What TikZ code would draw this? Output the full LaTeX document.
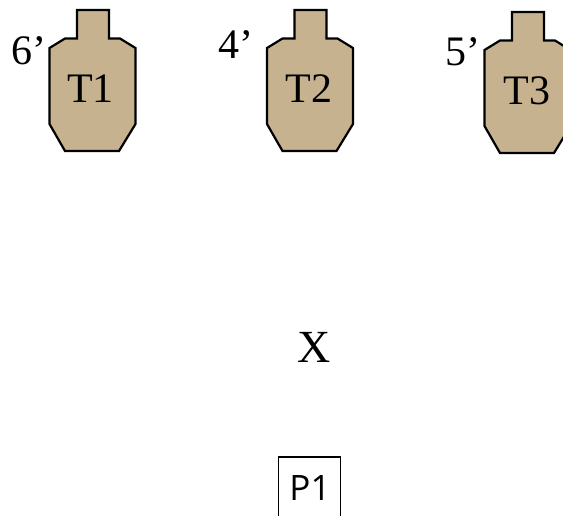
\documentclass[tikz,border=0pt]{standalone}
\usepackage{fontspec}
\setmainfont{Liberation Serif}
\newfontfamily\boxfont{Open Sans}
\definecolor{targetfill}{HTML}{C6B28F}
\tikzset{
  targetshape/.style={draw=black,fill=targetfill,line width=2.2pt,line join=miter},
  targetlabel/.style={font=\fontsize{42}{42}\selectfont,inner sep=0pt,text=black},
  distlabel/.style={font=\fontsize{42}{42}\selectfont,inner sep=0pt,text=black},
  boxlabel/.style={draw=black,line width=1.5pt,font=\boxfont\fontsize{35}{35}\selectfont,inner sep=0pt,minimum width=62pt,minimum height=62pt,text=black}
}
\newcommand{\targetat}[2]{%
  \draw[targetshape,shift={(#1,#2)}]
    (77,10) -- (109,10) -- (109,38.5) -- (120,38.5) -- (135.5,48) -- (135.5,124)
    -- (119,151) -- (65,151) -- (49.5,124) -- (49.5,48) -- (65,38.5) -- (77,38.5) -- cycle;}
\begin{document}
\begin{tikzpicture}[x=1pt,y=-1pt]
\path[use as bounding box,clip] (0,0) rectangle (563,515);
\targetat{0}{0}
\targetat{217.5}{0}
\targetat{435}{2}
\node[targetlabel] (t1) at (90.5,89) {T1};
\node[targetlabel] (t2) at (309,89) {T2};
\node[targetlabel] (t3) at (527,91) {T3};
\node[distlabel,anchor=base west] (d1) at (11,64) {6’};
\node[distlabel,anchor=base west] (d2) at (218,58.5) {4’};
\node[distlabel,anchor=base west] (d3) at (445,65.5) {5’};
\node[font=\fontsize{46}{46}\selectfont,inner sep=0pt] (x) at (314,347) {X};
\node[boxlabel] (p1) at (309.5,488) {\hspace{1pt}P1};
\end{tikzpicture}
\end{document}
